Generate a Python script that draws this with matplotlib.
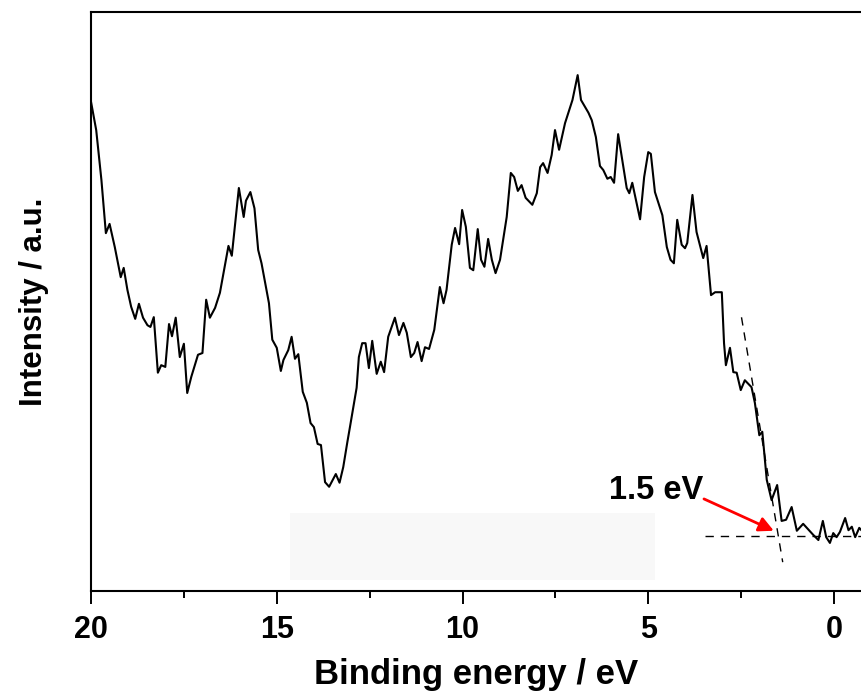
import numpy as np
import matplotlib
matplotlib.use("Agg")
import matplotlib.pyplot as plt
from matplotlib.patches import Rectangle

plt.rcParams['font.family'] = ['Liberation Sans', 'DejaVu Sans']
plt.rcParams['font.weight'] = 'bold'

# valence band spectrum (binding energy in eV, intensity in a.u.)
energy = np.array([
    20.00, 19.86, 19.72, 19.60, 19.50, 19.36, 19.20, 19.12, 19.02, 18.92,
    18.81, 18.71, 18.60, 18.48, 18.40, 18.31, 18.20, 18.11, 18.00, 17.90,
    17.82, 17.72, 17.61, 17.50, 17.41, 17.30, 17.12, 17.00, 16.90, 16.80,
    16.66, 16.53, 16.30, 16.21, 16.02, 15.89, 15.83, 15.71, 15.60, 15.50,
    15.41, 15.21, 15.12, 15.00, 14.89, 14.82, 14.69, 14.60, 14.51, 14.42,
    14.30, 14.19, 14.09, 14.00, 13.90, 13.81, 13.70, 13.59, 13.41, 13.31,
    13.21, 13.10, 13.03, 12.85, 12.79, 12.70, 12.61, 12.52, 12.43, 12.31,
    12.20, 12.11, 12.00, 11.82, 11.71, 11.59, 11.50, 11.39, 11.30, 11.21,
    11.10, 11.01, 10.90, 10.76, 10.61, 10.51, 10.43, 10.29, 10.20, 10.09,
    10.01, 9.91, 9.80, 9.71, 9.59, 9.50, 9.41, 9.31, 9.21, 9.11,
    8.99, 8.81, 8.70, 8.61, 8.51, 8.41, 8.30, 8.12, 8.00, 7.91,
    7.83, 7.71, 7.60, 7.51, 7.40, 7.24, 7.04, 6.90, 6.81, 6.61,
    6.52, 6.41, 6.30, 6.21, 6.10, 6.01, 5.92, 5.81, 5.58, 5.51,
    5.43, 5.22, 5.11, 5.00, 4.93, 4.82, 4.62, 4.50, 4.40, 4.31,
    4.22, 4.10, 4.01, 3.95, 3.81, 3.70, 3.52, 3.43, 3.31, 3.20,
    3.02, 2.96, 2.91, 2.80, 2.71, 2.62, 2.51, 2.40, 2.22, 2.13,
    2.01, 1.93, 1.81, 1.68, 1.53, 1.41, 1.29, 1.14, 1.00, 0.83,
    0.56, 0.42, 0.30, 0.21, 0.11, 0.02, -0.07, -0.16, -0.30, -0.39,
    -0.48, -0.57, -0.68, -0.78,
])
intensity = np.array([
    84.5, 79.6, 71.0, 61.8, 63.4, 59.4, 54.2, 55.8, 52.0, 49.1,
    47.0, 49.6, 47.2, 45.9, 45.6, 47.3, 37.7, 39.0, 38.7, 46.1,
    44.0, 47.2, 40.4, 42.7, 34.2, 37.0, 40.8, 41.1, 50.3, 47.2,
    48.9, 51.5, 59.6, 57.9, 69.6, 64.6, 67.4, 68.9, 66.1, 58.9,
    56.6, 49.7, 43.4, 42.0, 38.0, 39.9, 41.6, 43.9, 40.1, 40.9,
    34.4, 32.5, 29.0, 28.3, 25.4, 25.2, 18.8, 18.0, 20.2, 18.7,
    21.4, 25.7, 28.3, 35.1, 40.4, 42.8, 42.8, 38.5, 43.2, 37.5,
    39.6, 37.8, 43.9, 47.2, 44.2, 46.3, 44.6, 40.4, 41.1, 43.0,
    39.7, 42.1, 41.8, 45.1, 52.5, 49.7, 52.0, 59.8, 62.7, 59.9,
    65.8, 62.9, 55.8, 55.4, 62.5, 57.2, 56.0, 60.8, 57.2, 54.9,
    57.2, 64.6, 72.2, 71.5, 69.1, 70.1, 67.9, 66.7, 68.7, 73.2,
    73.9, 72.2, 75.3, 79.6, 76.2, 80.8, 84.8, 89.1, 84.8, 82.6,
    81.3, 78.4, 73.4, 72.7, 71.2, 71.5, 70.5, 78.9, 69.6, 68.7,
    70.5, 64.2, 71.5, 75.8, 75.5, 68.9, 64.9, 59.4, 57.2, 56.6,
    64.1, 59.8, 59.2, 60.1, 68.4, 62.0, 57.5, 59.6, 51.1, 51.6,
    51.6, 42.8, 39.0, 42.0, 37.8, 37.7, 34.7, 36.4, 35.2, 32.5,
    26.9, 27.5, 19.2, 15.7, 18.3, 12.1, 12.3, 14.5, 10.4, 11.6,
    9.7, 8.8, 12.1, 9.3, 8.3, 10.0, 9.3, 10.2, 12.6, 10.5,
    11.1, 9.3, 10.9, 10.2,
])

# linear extrapolation of the leading edge and the background level
onset = 1.5
background = 9.55
edge_slope = 38.1          # a.u. per eV
edge_range = [2.49, 1.38]
background_range = [3.47, -0.9]

fig = plt.figure(figsize=(8.61, 6.97), dpi=100)
ax = fig.add_axes([0.1057, 0.1521, 0.8943, 0.8307])

# pale box left over under the curve
ax.add_patch(Rectangle((14.64, 1.9), 4.82 - 14.64, 13.5 - 1.9,
                       facecolor='#f8f8f8', edgecolor='none', zorder=0))

ax.plot(energy, intensity, color='black', lw=1.5)

edge_e = np.array(edge_range)
ax.plot(edge_e, background + edge_slope * (edge_e - onset),
        color='black', lw=1.0, ls=(0, (6, 5)))
ax.plot(background_range, [background, background],
        color='black', lw=1.0, ls=(0, (6, 5)))

ax.annotate('', xy=(1.62, 10.4), xytext=(3.5, 15.9),
            arrowprops=dict(arrowstyle='-|>', color='red', lw=2,
                            mutation_scale=22, shrinkA=0, shrinkB=0))
ax.text(3.52, 17.3, f'{onset} eV', ha='right', va='center',
        fontsize=23.5, fontweight='bold')

ax.set_xlim(20, -0.727)
ax.set_ylim(0, 100)
ax.set_xticks([20, 15, 10, 5, 0])
ax.set_xticks([17.5, 12.5, 7.5, 2.5], minor=True)
ax.set_yticks([])
ax.tick_params(axis='x', which='major', length=9, width=1.4, pad=8,
               labelsize=22)
ax.tick_params(axis='x', which='minor', length=5, width=1.4)
for lbl in ax.get_xticklabels():
    lbl.set_fontweight('bold')

for side in ['left', 'bottom', 'top']:
    ax.spines[side].set_linewidth(1.5)
ax.spines['right'].set_visible(False)

ax.set_xlabel('Binding energy / eV', fontsize=25, fontweight='bold',
              labelpad=10)
ax.set_ylabel('Intensity / a.u.', fontsize=22.5, fontweight='bold',
              labelpad=30)

fig.savefig('out.png', dpi=100)
